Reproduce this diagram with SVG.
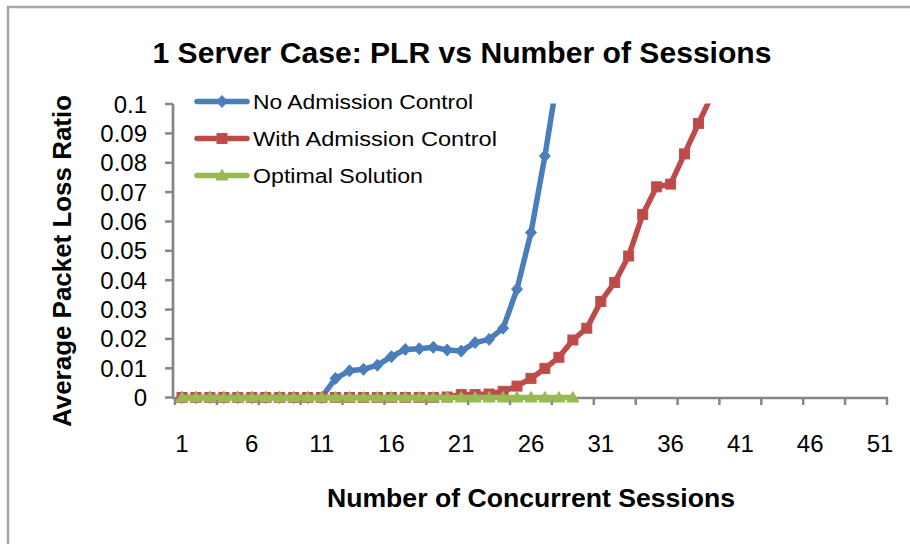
<svg xmlns="http://www.w3.org/2000/svg" width="910" height="544" viewBox="0 0 910 544">
  <style>
    .frame { fill: #ffffff; stroke: #a6a6a6; stroke-width: 2.5; }
    .axis { stroke: #868686; stroke-width: 2.7; fill: none; }
    .tick { stroke: #868686; stroke-width: 2.5; }
    .num { font-family: "Liberation Sans", Arial, sans-serif; font-size: 24px; fill: #000000; }
    .ylab { text-anchor: end; }
    .xlab { text-anchor: middle; }
    .title { font-family: "Liberation Sans", Arial, sans-serif; font-weight: bold; fill: #000000; }
    .legtext { font-family: "Liberation Sans", Arial, sans-serif; font-size: 20px; fill: #000000; }
    .series { fill: none; stroke-width: 5.5; stroke-linejoin: round; stroke-linecap: round; }
    .blue { stroke: #4a7ebb; }
    .red { stroke: #be4b48; }
    .green { stroke: #98b954; }
  </style>
  <defs>
    <marker id="diamond" viewBox="-8 -8 16 16" markerWidth="16" markerHeight="16" refX="0" refY="0" markerUnits="userSpaceOnUse">
      <path d="M0,-6 L5.5,0 L0,6 L-5.5,0 Z" fill="#4a7ebb" stroke="#4a7ebb" stroke-width="1"/>
    </marker>
    <marker id="square" viewBox="-8 -8 16 16" markerWidth="16" markerHeight="16" refX="0" refY="0" markerUnits="userSpaceOnUse">
      <rect x="-5" y="-5" width="10" height="10" fill="#be4b48" stroke="#c0504d" stroke-width="1"/>
    </marker>
    <marker id="triangle" viewBox="-8 -8 16 16" markerWidth="16" markerHeight="16" refX="0" refY="0" markerUnits="userSpaceOnUse">
      <path d="M0,-6 L6,4.5 L-6,4.5 Z" fill="#98b954" stroke="#98b954" stroke-width="1"/>
    </marker>
    <clipPath id="plotArea">
      <rect x="160" y="103.5" width="740" height="320"/>
    </clipPath>
  </defs>

  <!-- chart frame -->
  <rect class="frame" x="8" y="7" width="910" height="600"/>

  <!-- chart title -->
  <g id="chart-title">
    <text class="title" x="462" y="63" font-size="29" text-anchor="middle" textLength="619" lengthAdjust="spacingAndGlyphs">1 Server Case: PLR vs Number of Sessions</text>
  </g>

  <!-- vertical axis -->
  <g id="y-axis">
    <line class="axis" x1="173" y1="104" x2="173" y2="398"/>
    <g class="tick">
      <line x1="165" y1="104" x2="173" y2="104"/>
      <line x1="165" y1="133.4" x2="173" y2="133.4"/>
      <line x1="165" y1="162.8" x2="173" y2="162.8"/>
      <line x1="165" y1="192.1" x2="173" y2="192.1"/>
      <line x1="165" y1="221.5" x2="173" y2="221.5"/>
      <line x1="165" y1="250.8" x2="173" y2="250.8"/>
      <line x1="165" y1="280.2" x2="173" y2="280.2"/>
      <line x1="165" y1="309.6" x2="173" y2="309.6"/>
      <line x1="165" y1="338.9" x2="173" y2="338.9"/>
      <line x1="165" y1="368.3" x2="173" y2="368.3"/>
      <line x1="165" y1="397.5" x2="173" y2="397.5"/>
    </g>
    <g class="num ylab">
      <text x="147" y="112.5">0.1</text>
      <text x="147" y="141.9">0.09</text>
      <text x="147" y="171.3">0.08</text>
      <text x="147" y="200.6">0.07</text>
      <text x="147" y="230">0.06</text>
      <text x="147" y="259.3">0.05</text>
      <text x="147" y="288.7">0.04</text>
      <text x="147" y="318.1">0.03</text>
      <text x="147" y="347.4">0.02</text>
      <text x="147" y="376.8">0.01</text>
      <text x="147" y="406">0</text>
    </g>
    <text class="title" font-size="25" text-anchor="middle" transform="translate(71,261) rotate(-90)" textLength="332" lengthAdjust="spacingAndGlyphs">Average Packet Loss Ratio</text>
  </g>

  <!-- horizontal axis -->
  <g id="x-axis">
    <line class="axis" x1="172" y1="398" x2="888" y2="398"/>
    <g class="tick">
      <line x1="175" y1="398" x2="175" y2="405"/>
      <line x1="216.9" y1="398" x2="216.9" y2="405"/>
      <line x1="258.8" y1="398" x2="258.8" y2="405"/>
      <line x1="300.6" y1="398" x2="300.6" y2="405"/>
      <line x1="342.5" y1="398" x2="342.5" y2="405"/>
      <line x1="384.4" y1="398" x2="384.4" y2="405"/>
      <line x1="426.3" y1="398" x2="426.3" y2="405"/>
      <line x1="468.2" y1="398" x2="468.2" y2="405"/>
      <line x1="510" y1="398" x2="510" y2="405"/>
      <line x1="551.9" y1="398" x2="551.9" y2="405"/>
      <line x1="593.8" y1="398" x2="593.8" y2="405"/>
      <line x1="635.7" y1="398" x2="635.7" y2="405"/>
      <line x1="677.6" y1="398" x2="677.6" y2="405"/>
      <line x1="719.4" y1="398" x2="719.4" y2="405"/>
      <line x1="761.3" y1="398" x2="761.3" y2="405"/>
      <line x1="803.2" y1="398" x2="803.2" y2="405"/>
      <line x1="845.1" y1="398" x2="845.1" y2="405"/>
      <line x1="887" y1="398" x2="887" y2="405"/>
    </g>
    <g class="num xlab">
      <text x="182" y="452">1</text>
      <text x="251.8" y="452">6</text>
      <text x="321.6" y="452">11</text>
      <text x="391.4" y="452">16</text>
      <text x="461.2" y="452">21</text>
      <text x="531" y="452">26</text>
      <text x="600.8" y="452">31</text>
      <text x="670.6" y="452">36</text>
      <text x="740.4" y="452">41</text>
      <text x="810.2" y="452">46</text>
      <text x="880" y="452">51</text>
    </g>
    <text class="title" x="531" y="507" font-size="26" text-anchor="middle" textLength="408" lengthAdjust="spacingAndGlyphs">Number of Concurrent Sessions</text>
  </g>

  <!-- data series -->
  <g id="series" clip-path="url(#plotArea)">
    <polyline id="no-admission" class="series blue" marker-start="url(#diamond)" marker-mid="url(#diamond)" marker-end="url(#diamond)"
      points="182,397.5 195.9,397.5 209.9,397.5 223.9,397.5 237.8,397.5 251.8,397.5 265.7,397.5 279.7,397.5 293.7,397.5 307.6,397.5 321.6,397.5 335.5,378.4 349.5,370.8 363.5,369.3 377.4,365.2 391.4,356.7 405.3,349.4 419.3,348.8 433.3,347.3 447.2,350 461.2,351.1 475.1,342.6 489.1,339.4 503.1,328.2 517,289.2 531,232.5 544.9,156 558.9,68.8"/>
    <polyline id="with-admission" class="series red" marker-start="url(#square)" marker-mid="url(#square)" marker-end="url(#square)"
      points="182,397.5 195.9,397.5 209.9,397.5 223.9,397.5 237.8,397.5 251.8,397.5 265.7,397.5 279.7,397.5 293.7,397.5 307.6,397.5 321.6,397.5 335.5,397.5 349.5,397.5 363.5,397.5 377.4,397.5 391.4,397.5 405.3,397.5 419.3,397.5 433.3,397.5 447.2,397 461.2,394.6 475.1,394.6 489.1,394 503.1,391.3 517,386.1 531,378.4 544.9,368.4 558.9,357.3 572.9,340 586.8,328.2 600.8,301.5 614.7,282.4 628.7,256 642.7,214.4 656.6,186.8 670.6,184.1 684.5,153.9 698.5,123.4 712.5,93.7"/>
    <polyline id="optimal" class="series green" marker-start="url(#triangle)" marker-mid="url(#triangle)" marker-end="url(#triangle)"
      points="182,397.5 195.9,397.5 209.9,397.5 223.9,397.5 237.8,397.5 251.8,397.5 265.7,397.5 279.7,397.5 293.7,397.5 307.6,397.5 321.6,397.5 335.5,397.5 349.5,397.5 363.5,397.5 377.4,397.5 391.4,397.5 405.3,397.5 419.3,397.5 433.3,397.5 447.2,397.5 461.2,397.5 475.1,397.5 489.1,397.5 503.1,397.5 517,397.5 531,397.5 544.9,397.5 558.9,397.5 572.9,397.5"/>
  </g>

  <!-- legend -->
  <g id="legend">
    <polyline class="series blue" points="197,101.5 222,101.5 247,101.5" marker-mid="url(#diamond)"/>
    <text class="legtext" x="253" y="108.5" textLength="220" lengthAdjust="spacingAndGlyphs">No Admission Control</text>
    <polyline class="series red" points="197,138.5 222,138.5 247,138.5" marker-mid="url(#square)"/>
    <text class="legtext" x="253" y="145.5" textLength="244" lengthAdjust="spacingAndGlyphs">With Admission Control</text>
    <polyline class="series green" points="197,175.5 222,175.5 247,175.5" marker-mid="url(#triangle)"/>
    <text class="legtext" x="253" y="182.5" textLength="170" lengthAdjust="spacingAndGlyphs">Optimal Solution</text>
  </g>
</svg>
